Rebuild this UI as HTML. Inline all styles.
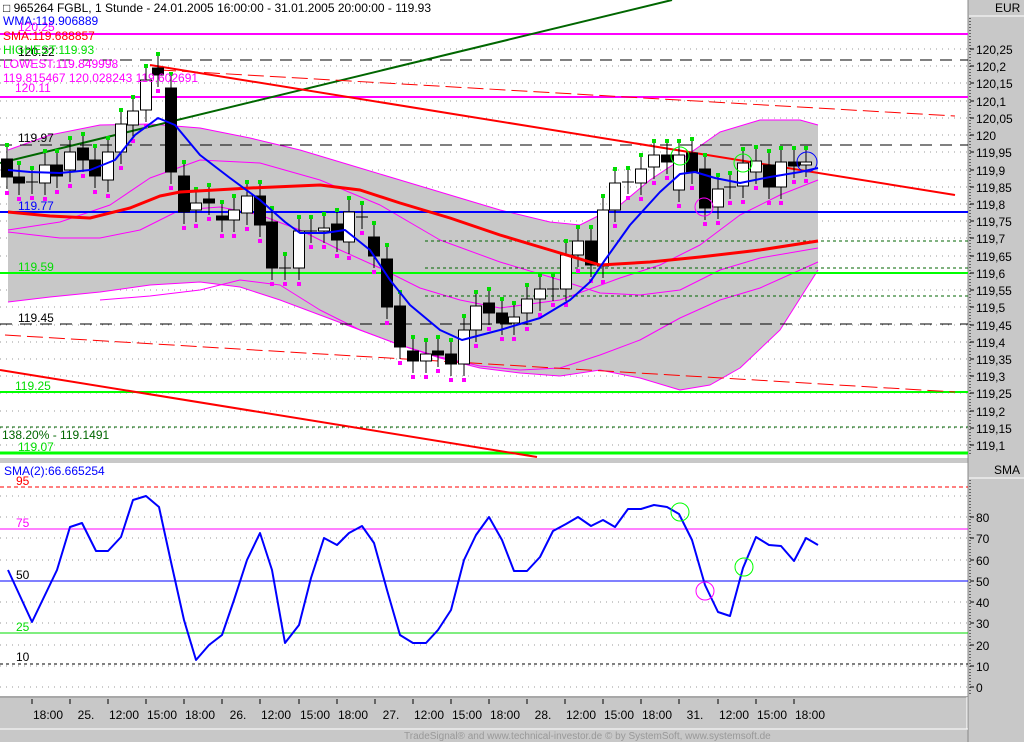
<!DOCTYPE html>
<html><head><meta charset="utf-8"><style>
body{margin:0;background:#c8c8c8;width:1024px;height:742px;overflow:hidden;font-family:"Liberation Sans",sans-serif}
svg{position:absolute;left:0;top:0}
text{font-family:"Liberation Sans",sans-serif;font-size:12px}
</style></head><body>
<svg id="s" width="1024" height="742" xmlns="http://www.w3.org/2000/svg">
<rect x="0" y="0" width="1024" height="742" fill="#c8c8c8"/>
<rect x="0" y="0" width="968" height="458" fill="#fff"/>
<rect x="0" y="463" width="968" height="233" fill="#fff"/>
<line x1="968" y1="0" x2="968" y2="742" stroke="#888"/>
<line x1="0" y1="697" x2="968" y2="697" stroke="#888"/>
<line x1="0" y1="729" x2="968" y2="729" stroke="#fff"/>
<line x1="967" y1="697" x2="967" y2="729" stroke="#fff"/>
<line x1="969" y1="16" x2="1024" y2="16" stroke="#fff"/>
<line x1="969" y1="478" x2="1024" y2="478" stroke="#fff"/>
<line x1="970" y1="18" x2="970" y2="456" stroke="#000" stroke-dasharray="1,2"/>
<line x1="970" y1="480" x2="970" y2="694" stroke="#000" stroke-dasharray="1,2"/>
<text x="995" y="12">EUR</text>
<text x="994" y="474">SMA</text>
<g id="g"></g>
</svg>
<script>
var g=document.getElementById('g'),h='';
function Y(p){return 49+(120.25-p)*344.4;}
function L(x1,y1,x2,y2,c,w,d){h+='<line x1="'+x1+'" y1="'+y1+'" x2="'+x2+'" y2="'+y2+'" stroke="'+c+'" stroke-width="'+(w||1)+'"'+(d?' stroke-dasharray="'+d+'"':'')+'/>';}
function P(pts,c,w,f){h+='<polyline points="'+pts.map(function(p){return p.join(',')}).join(' ')+'" fill="'+(f||'none')+'" stroke="'+c+'" stroke-width="'+(w||1)+'" stroke-linejoin="round"/>';}
function T(x,y,t,c,a){h+='<text x="'+x+'" y="'+y+'" fill="'+c+'"'+(a?' text-anchor="'+a+'"':'')+'>'+t+'</text>';}
// grid top
for(var i=0;i<=23;i++){var p=120.25-i*0.05,y=Math.round(Y(p));L(0,y,968,y,'#999',1,'1,5');L(970,y,974,y,'#000');T(976,y+5,p.toFixed(2).replace(/0$/,'').replace(/\.0$/,'').replace(/\.$/,'').replace('.',','),'#000');}
// band
var up=[[8,150],[50,135],[100,125],[150,124],[200,128],[250,138],[300,150],[350,165],[400,180],[450,195],[500,210],[550,222],[580,225],[620,205],[650,180],[680,160],[720,132],[760,120],[800,120],[818,125]];
var lo=[[818,270],[780,330],[740,368],[710,385],[680,390],[640,378],[600,370],[560,376],[520,373],[480,368],[440,358],[400,345],[360,330],[320,315],[280,300],[240,287],[200,282],[150,285],[100,292],[50,297],[8,302]];
P(up.concat(lo),'none',0,'#c8c8c8');
P(up,'#f0f',1);P(lo,'#f0f',1);
P([[8,230],[60,222],[110,205],[150,178],[200,160],[260,163],[320,180],[380,205],[440,240],[500,262],[560,280],[600,293],[640,295],[680,290],[720,270],[760,258],[818,248]],'#f0f',1);
P([[8,232],[60,238],[100,238],[140,230],[180,210],[220,207],[260,215],[300,230],[340,250],[380,268],[420,288],[460,300],[500,308],[560,300],[620,278],[660,265],[700,245],[740,215],[780,195],[818,180]],'#f0f',1);
P([[100,300],[150,296],[200,290],[240,280],[280,285],[320,310],[360,330],[400,345],[440,357],[480,366],[520,370],[560,368],[600,355],[640,340],[680,318],[720,300],[760,288],[818,262]],'#f0f',1);
// horizontals
L(0,34,968,34,'#f0f',2);L(0,97,968,97,'#f0f',2);
L(0,60,968,60,'#000',1,'12,8');L(0,145,968,145,'#000',1,'12,8');L(0,324,968,324,'#000',1,'12,8');
L(0,212,968,212,'#00f',2);L(0,273,968,273,'#0f0',2);L(0,392,968,392,'#0f0',2);L(0,453,968,453,'#0f0',3);
L(425,241,968,241,'#060',1,'3,3');L(425,268,968,268,'#060',1,'3,3');L(425,296,968,296,'#060',1,'3,3');L(0,427,968,427,'#060',1,'3,3');
// trendlines
L(0,163,672,0,'#060',2);
L(150,65,955,195,'#f00',2);
L(160,70,955,116,'#f00',1,'16,6');
L(5,335,955,392,'#f00',1,'16,6');
L(0,370,537,457,'#f00',2);
// candles
var C=[[7,159,177,0],[19,177,183,0],[32,182,182,2],[45,165,183,1],[57,165,176,0],[70,152,170,1],[83,148,160,0],[95,160,176,0],[108,152,180,1],[121,124,152,1],[133,111,125,1],[146,80,110,1],[158,68,75,0],[171,88,172,0],[184,176,212,0],[196,203,210,1],[209,199,203,0],[222,216,220,0],[234,210,220,1],[247,196,213,1],[260,196,225,0],[272,222,268,0],[285,268,268,2],[299,231,268,1],[311,231,231,2],[324,228,231,1],[337,224,240,0],[349,212,242,1],[362,217,217,2],[374,237,256,0],[387,259,307,0],[400,306,347,0],[413,351,361,0],[426,354,361,1],[438,351,355,0],[451,354,364,0],[464,330,364,1],[476,306,330,1],[489,303,313,0],[502,313,323,0],[514,317,323,1],[527,299,313,1],[540,289,299,1],[553,289,289,2],[566,255,289,1],[578,241,255,1],[591,241,265,0],[603,210,266,1],[615,183,210,1],[628,182,182,2],[641,169,183,1],[654,155,167,1],[667,155,162,0],[679,155,190,1],[692,153,172,0],[705,169,208,0],[718,189,207,1],[730,187,187,2],[743,163,186,1],[756,161,172,1],[769,165,187,0],[781,162,187,1],[794,162,166,0],[806,162,165,1]];
var dots='';
C.forEach(function(c){var x=c[0],t=c[1],b=c[2],hi=t-12,lw=b+12;L(x,hi,x,lw,'#000');
if(c[3]==2)L(x-6,t,x+6,t,'#000');else h+='<rect x="'+(x-5.5)+'" y="'+t+'" width="11" height="'+Math.max(b-t,2)+'" fill="'+(c[3]?'#fff':'#000')+'" stroke="#000"/>';
dots+='<rect x="'+(x-2)+'" y="'+(hi-4)+'" width="4" height="4" fill="#0d0"/><rect x="'+(x-2)+'" y="'+(lw+2)+'" width="4" height="4" fill="#f0f"/>';});
h+=dots;
// SMA red & WMA blue
P([[8,212],[50,216],[90,218],[130,208],[160,196],[180,192],[250,188],[320,185],[360,190],[400,203],[450,218],[500,235],[550,250],[600,265],[650,262],[700,257],[760,250],[818,241]],'#f00',3);
P([[8,170],[30,172],[60,173],[90,170],[115,160],[135,135],[158,118],[175,125],[200,155],[230,178],[260,200],[285,222],[300,233],[325,233],[345,230],[370,250],[390,280],[410,305],[440,330],[462,340],[500,330],[540,318],[570,300],[590,282],[605,260],[630,225],[660,192],[680,174],[695,172],[715,178],[740,183],[770,177],[800,172],[818,168]],'#00f',2);
h+='<circle cx="680" cy="156" r="9" fill="none" stroke="#0f0"/><circle cx="743" cy="163" r="9" fill="none" stroke="#0f0"/><circle cx="704" cy="207" r="9" fill="none" stroke="#f0f"/><circle cx="807" cy="162" r="10" fill="none" stroke="#00f"/>';
// labels top
T(3,12,'\u25A1 965264  FGBL, 1 Stunde - 24.01.2005 16:00:00 - 31.01.2005 20:00:00 - 119.93','#000');
T(18,31,'120.25','#f0f');T(3,25,'WMA:119.906889','#00f');T(3,40,'SMA:119.688857','#f00');
T(18,56,'120.22','#000');T(3,54,'HIGHEST:119.93','#0d0');T(3,68,'LOWEST:119.849998','#f0f');
T(3,82,'119.815467 120.028243 119.602691','#f0f');T(15,92,'120.11','#f0f');
T(18,142,'119.97','#000');T(18,210,'119.77','#00f');T(18,271,'119.59','#0d0');T(18,322,'119.45','#000');T(15,390,'119.25','#0d0');
T(2,439,'138.20% - 119.1491','#060');T(18,451,'119.07','#0d0');
// bottom panel
function V(v){return 687-v*2.125;}
for(var v=0;v<=90;v+=10){var y=Math.round(V(v));L(0,y,968,y,'#999',1,'1,5');if(v<=80){L(970,y,974,y,'#000');T(976,y+5,''+v,'#000');}}
L(0,487,968,487,'#f00',1,'4,3');L(0,529,968,529,'#f0f',1);L(0,581,968,581,'#00f',1);L(0,633,968,633,'#0d0',1);L(0,664,968,664,'#000',1,'3,3');
T(4,475,'SMA(2):66.665254','#00f');T(16,485,'95','#f00');T(16,527,'75','#f0f');T(16,579,'50','#000');T(16,631,'25','#0d0');T(16,661,'10','#000');
P([[8,570],[32,622],[57,570],[70,527],[82,523],[96,551],[108,551],[121,537],[133,500],[146,496],[159,507],[171,562],[184,620],[196,660],[209,645],[222,635],[234,600],[247,560],[260,533],[272,570],[285,643],[299,625],[311,578],[324,538],[337,545],[349,533],[362,526],[374,543],[387,590],[400,635],[413,643],[426,643],[438,630],[451,610],[464,560],[476,535],[489,517],[502,540],[514,571],[527,571],[540,557],[553,531],[566,524],[578,517],[591,526],[603,520],[615,527],[628,509],[641,509],[654,505],[667,507],[679,514],[692,540],[705,585],[718,612],[730,616],[743,568],[756,537],[769,545],[781,546],[794,561],[806,538],[818,545]],'#00f',2);
h+='<circle cx="680" cy="512" r="9" fill="none" stroke="#0f0"/><circle cx="744" cy="567" r="9" fill="none" stroke="#0f0"/><circle cx="705" cy="591" r="9" fill="none" stroke="#f0f"/>';
// time axis
var tx=[32,70,108,146,184,222,260,299,337,375,413,451,489,527,565,603,641,679,718,756,794],tl=['18:00','25.','12:00','15:00','18:00','26.','12:00','15:00','18:00','27.','12:00','15:00','18:00','28.','12:00','15:00','18:00','31.','12:00','15:00','18:00'];
tx.forEach(function(x,i){L(x,699,x,704,'#000');T(x+16,719,tl[i],'#000','middle');});
h+='<text x="404" y="739" fill="#999" style="font-size:10px">TradeSignal® and www.technical-investor.de © by  SystemSoft, www.systemsoft.de</text>';
g.innerHTML=h;
</script>
</body></html>
